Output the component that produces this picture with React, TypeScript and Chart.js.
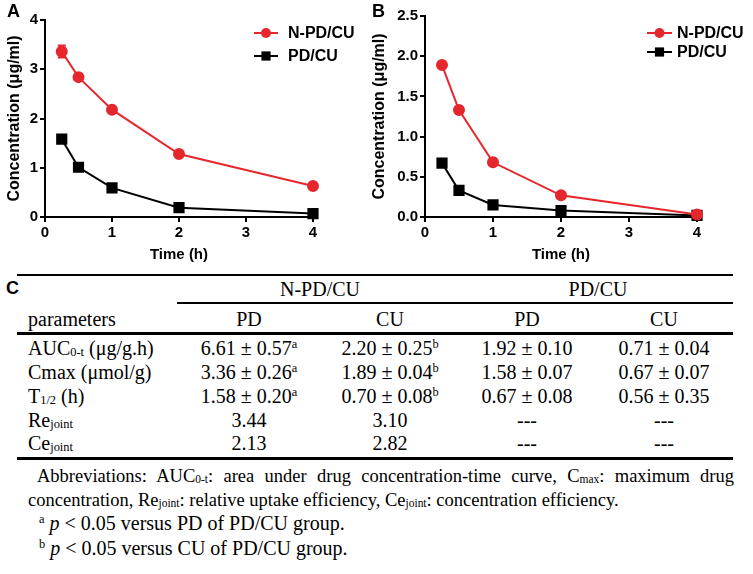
import React, { useEffect, useRef } from "react";
import { Chart, registerables } from "chart.js";
Chart.register(...registerables);

// ---------- data ----------
const times = [0.25, 0.5, 1, 2, 4];
const seriesNames = ["N-PD/CU", "PD/CU"];
const plasmaNPD = [3.36, 2.84, 2.18, 1.28, 0.63];
const plasmaNPDErr = [0.12, 0.04, 0.04, 0.03, 0.03];
const plasmaPD = [1.58, 1.01, 0.59, 0.19, 0.07];
const plasmaPDErr = [0.05, 0.04, 0.04, 0.03, 0.02];
const tissueNPD = [1.89, 1.33, 0.68, 0.27, 0.03];
const tissueNPDErr = [0.03, 0.03, 0.02, 0.02, 0.01];
const tissuePD = [0.67, 0.33, 0.15, 0.08, 0.02];
const tissuePDErr = [0.04, 0.03, 0.02, 0.01, 0.01];
const xTicks = [0, 1, 2, 3, 4];
const yTicksA = [0, 1, 2, 3, 4];
const yTicksB = [0, 0.5, 1.0, 1.5, 2.0, 2.5];
const xTitle = "Time (h)";
const yTitle = "Concentration (μg/ml)";

const groupHeaders = ["N-PD/CU", "PD/CU"];
const subHeaders = ["parameters", "PD", "CU", "PD", "CU"];
const paramNames = ["AUC", "Cmax", "T", "Re", "Ce"];
const paramSubs = ["0-t", "", "1/2", "joint", "joint"];
const paramUnits = [" (μg/g.h)", " (μmol/g)", " (h)", "", ""];
const colNPD_PD = ["6.61 ± 0.57", "3.36 ± 0.26", "1.58 ± 0.20", "3.44", "2.13"];
const supNPD_PD = ["a", "a", "a", "", ""];
const colNPD_CU = ["2.20 ± 0.25", "1.89 ± 0.04", "0.70 ± 0.08", "3.10", "2.82"];
const supNPD_CU = ["b", "b", "b", "", ""];
const colPD_PD = ["1.92 ± 0.10", "1.58 ± 0.07", "0.67 ± 0.08", "---", "---"];
const colPD_CU = ["0.71 ± 0.04", "0.67 ± 0.07", "0.56 ± 0.35", "---", "---"];

const RED = "rgb(229,39,45)";
const BLACK = "#000";
const SANS = '"Liberation Sans", Arial, sans-serif';
const SERIF = '"Liberation Serif", "Times New Roman", serif';

const errorBarPlugin = {
  id: "errorBars",
  beforeDatasetsDraw(chart: any) {
    const { ctx } = chart;
    const x = chart.scales.x;
    const y = chart.scales.y;
    chart.data.datasets.forEach((ds: any) => {
      const errs = ds.errors;
      if (!errs) return;
      ctx.save();
      ctx.strokeStyle = ds.borderColor;
      ctx.lineWidth = 2;
      ds.data.forEach((p: any, j: number) => {
        const px = x.getPixelForValue(p.x);
        const top = y.getPixelForValue(p.y + errs[j]);
        const bot = y.getPixelForValue(p.y - errs[j]);
        ctx.beginPath();
        ctx.moveTo(px, top);
        ctx.lineTo(px, bot);
        ctx.moveTo(px - 4, top);
        ctx.lineTo(px + 4, top);
        ctx.moveTo(px - 4, bot);
        ctx.lineTo(px + 4, bot);
        ctx.stroke();
      });
      ctx.restore();
    });
  },
};

const legendPlugin = {
  id: "customLegend",
  afterDraw(chart: any, _args: any, opts: any) {
    const { ctx } = chart;
    chart.data.datasets.forEach((ds: any, i: number) => {
      const y = opts.y + i * opts.gap;
      const x0 = opts.x;
      ctx.save();
      ctx.strokeStyle = ds.borderColor;
      ctx.lineWidth = 2;
      ctx.beginPath();
      ctx.moveTo(x0, y);
      ctx.lineTo(x0 + opts.lineLen, y);
      ctx.stroke();
      ctx.fillStyle = ds.pointBackgroundColor;
      const cx = x0 + opts.lineLen / 2;
      if (ds.pointStyle === "rect") {
        const s = ds.pointRadius * Math.SQRT2;
        ctx.fillRect(cx - s / 2, y - s / 2, s, s);
      } else {
        ctx.beginPath();
        ctx.arc(cx, y, ds.pointRadius, 0, Math.PI * 2);
        ctx.fill();
      }
      ctx.fillStyle = "#000";
      ctx.font = `bold ${opts.fontSize}px ${SANS}`;
      ctx.textBaseline = "middle";
      ctx.fillText(ds.label, x0 + opts.lineLen + opts.textGap, y + 1);
      ctx.restore();
    });
  },
};

function makeConfig(p: any) {
  const mk = (label: string, vals: number[], errs: number[], color: string, style: string, r: number) => ({
    label,
    data: times.map((t, i) => ({ x: t, y: vals[i] })),
    errors: errs,
    borderColor: color,
    backgroundColor: color,
    pointBackgroundColor: color,
    pointBorderColor: color,
    pointStyle: style,
    pointRadius: r,
    borderWidth: 2,
    tension: 0,
    clip: false,
  });
  return {
    type: "line",
    data: {
      datasets: [
        mk(seriesNames[0], p.npd, p.npdErr, RED, "circle", 5),
        mk(seriesNames[1], p.pd, p.pdErr, BLACK, "rect", 6.5),
      ],
    },
    plugins: [errorBarPlugin, legendPlugin],
    options: {
      responsive: false,
      animation: false,
      layout: { padding: p.padding },
      plugins: {
        legend: { display: false },
        tooltip: { enabled: false },
        customLegend: p.legend,
      },
      scales: {
        x: {
          type: "linear",
          min: 0,
          max: 4,
          afterBuildTicks: (s: any) => {
            s.ticks = xTicks.map((v) => ({ value: v }));
          },
          afterFit: (s: any) => {
            s.height = p.xHeight;
          },
          border: { color: "#000", width: 2 },
          grid: { drawOnChartArea: false, color: "#000", lineWidth: 2, tickLength: 5 },
          ticks: { color: "#000", font: { family: SANS, size: 15, weight: "bold" }, padding: 2, maxRotation: 0 },
          title: {
            display: true,
            text: xTitle,
            color: "#000",
            font: { family: SANS, size: 15, weight: "bold" },
            padding: { top: 0, bottom: p.xTitlePad },
          },
        },
        y: {
          type: "linear",
          min: 0,
          max: p.yMax,
          afterBuildTicks: (s: any) => {
            s.ticks = p.yTicks.map((v: number) => ({ value: v }));
          },
          afterFit: (s: any) => {
            s.width = p.yWidth;
          },
          border: { color: "#000", width: 2 },
          grid: { drawOnChartArea: false, color: "#000", lineWidth: 2, tickLength: 5 },
          ticks: {
            color: "#000",
            font: { family: SANS, size: 15, weight: "bold" },
            padding: 2,
            callback: (v: number) => v.toFixed(p.decimals),
          },
          title: {
            display: true,
            text: yTitle,
            color: "#000",
            font: { family: SANS, size: 16, weight: "bold" },
            padding: { top: p.yTitlePad, bottom: 0 },
          },
        },
      },
    },
  };
}

function ChartCanvas(props: { cfg: any; left: number; top: number; width: number; height: number }) {
  const ref = useRef<HTMLCanvasElement>(null);
  useEffect(() => {
    const chart = new Chart(ref.current as any, props.cfg);
    return () => chart.destroy();
  }, []);
  return (
    <canvas
      ref={ref}
      width={props.width}
      height={props.height}
      style={{ position: "absolute", left: props.left, top: props.top, width: props.width, height: props.height }}
    />
  );
}

const cfgA = makeConfig({
  npd: plasmaNPD, npdErr: plasmaNPDErr, pd: plasmaPD, pdErr: plasmaPDErr,
  yMax: 4, yTicks: yTicksA, decimals: 0,
  padding: { left: 0, top: 20, right: 57, bottom: 0 },
  yWidth: 45, xHeight: 53, xTitlePad: 6, yTitlePad: 5,
  legend: { x: 254, y: 33, gap: 23, lineLen: 24, textGap: 10, fontSize: 16 },
});
const cfgB = makeConfig({
  npd: tissueNPD, npdErr: tissueNPDErr, pd: tissuePD, pdErr: tissuePDErr,
  yMax: 2.5, yTicks: yTicksB, decimals: 1,
  padding: { left: 0, top: 16, right: 56, bottom: 0 },
  yWidth: 55, xHeight: 53, xTitlePad: 6, yTitlePad: 0,
  legend: { x: 277, y: 33, gap: 19, lineLen: 25, textGap: 5, fontSize: 16 },
});

const T = (props: { x: number; y: number; align?: string; size?: number; children: any; w?: number }) => {
  const align = props.align || "center";
  const w = props.w || 200;
  const left = align === "center" ? props.x - w / 2 : align === "right" ? props.x - w : props.x;
  return (
    <div
      style={{
        position: "absolute",
        left,
        top: props.y - 12,
        width: w,
        height: 24,
        lineHeight: "24px",
        textAlign: align as any,
        fontSize: props.size || 20,
        whiteSpace: "nowrap",
      }}
    >
      {props.children}
    </div>
  );
};

const HLine = (props: { x1: number; x2: number; y: number; t: number }) => (
  <div style={{ position: "absolute", left: props.x1, top: props.y - props.t / 2, width: props.x2 - props.x1, height: props.t, background: "#000" }} />
);

export default function App() {
  const colX = [28, 249, 390, 527, 664];
  const groupX = [320, 598];
  const rowY = [348, 372, 396, 420, 443];
  const sup = { fontSize: "0.62em", verticalAlign: "0.55em", lineHeight: 0 } as any;
  const sub = { fontSize: "0.62em", verticalAlign: "-0.1em", lineHeight: 0 } as any;
  const cols = [
    { vals: colNPD_PD, sups: supNPD_PD },
    { vals: colNPD_CU, sups: supNPD_CU },
    { vals: colPD_PD, sups: null },
    { vals: colPD_CU, sups: null },
  ];
  return (
    <div style={{ position: "absolute", left: 0, top: 0, width: 753, height: 574, background: "#fff", fontFamily: SERIF, color: "#000", overflow: "hidden" }}>
      <ChartCanvas cfg={cfgA} left={0} top={0} width={370} height={270} />
      <ChartCanvas cfg={cfgB} left={370} top={0} width={383} height={270} />
      <div style={{ position: "absolute", left: 7, top: 1, font: `bold 18px ${SANS}` }}>A</div>
      <div style={{ position: "absolute", left: 372, top: 1, font: `bold 18px ${SANS}` }}>B</div>
      <div style={{ position: "absolute", left: 6, top: 278, font: `bold 18px ${SANS}` }}>C</div>

      <HLine x1={17} x2={733} y={275} t={2} />
      <T x={groupX[0]} y={289}>{groupHeaders[0]}</T>
      <T x={groupX[1]} y={289}>{groupHeaders[1]}</T>
      <HLine x1={177} x2={733} y={303} t={2} />
      <T x={colX[0]} y={319} align="left">{subHeaders[0]}</T>
      {subHeaders.slice(1).map((h, i) => (
        <T key={i} x={colX[i + 1]} y={319}>{h}</T>
      ))}
      <HLine x1={17} x2={733} y={333} t={3} />
      {paramNames.map((n, r) => (
        <T key={"p" + r} x={colX[0]} y={rowY[r]} align="left">
          {n}
          {paramSubs[r] ? <span style={sub}>{paramSubs[r]}</span> : null}
          {paramUnits[r]}
        </T>
      ))}
      {cols.map((c, ci) =>
        c.vals.map((v, r) => (
          <T key={ci + "-" + r} x={colX[ci + 1]} y={rowY[r]}>
            {v}
            {c.sups && c.sups[r] ? <span style={sup}>{c.sups[r]}</span> : null}
          </T>
        ))
      )}
      <HLine x1={17} x2={733} y={458} t={3} />

      <div style={{ position: "absolute", left: 28, top: 464, width: 706, fontSize: 18.5, lineHeight: "24px", textAlign: "justify", textAlignLast: "justify", textIndent: 9, whiteSpace: "nowrap" } as any}>
        Abbreviations: AUC<span style={sub}>0-t</span>: area under drug concentration-time curve, C<span style={sub}>max</span>: maximum drug
      </div>
      <div style={{ position: "absolute", left: 28, top: 488, fontSize: 18.5, lineHeight: "24px", whiteSpace: "nowrap" }}>
        concentration, Re<span style={sub}>joint</span>: relative uptake efficiency, Ce<span style={sub}>joint</span>: concentration efficiency.
      </div>
      <div style={{ position: "absolute", left: 39, top: 511, fontSize: 20, lineHeight: "24px", whiteSpace: "nowrap" }}>
        <span style={sup}>a</span> <i>p</i> &lt; 0.05 versus PD of PD/CU group.
      </div>
      <div style={{ position: "absolute", left: 39, top: 536, fontSize: 20, lineHeight: "24px", whiteSpace: "nowrap" }}>
        <span style={sup}>b</span> <i>p</i> &lt; 0.05 versus CU of PD/CU group.
      </div>
    </div>
  );
}
